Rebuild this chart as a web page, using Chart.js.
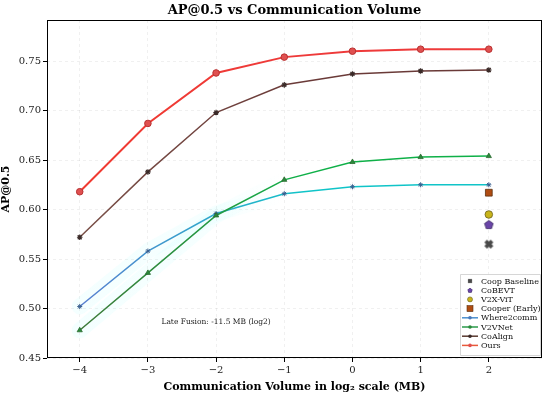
<!DOCTYPE html>
<html>
<head>
<meta charset="utf-8">
<script src="https://cdn.jsdelivr.net/npm/chart.js@4.4.0/dist/chart.umd.min.js"></script>
<style>
html,body{margin:0;padding:0;background:#fff;}
#wrap{width:550px;height:394px;}
</style>
</head>
<body>
<div id="wrap"><canvas id="c" width="550" height="394"></canvas></div>
<script>
// ---- data ----
const xValues = [-4, -3, -2, -1, 0, 1, 2];
const oursAP = [0.618, 0.687, 0.738, 0.754, 0.760, 0.762, 0.762];
const coAlignAP = [0.572, 0.638, 0.698, 0.726, 0.737, 0.740, 0.741];
const v2vnetAP = [0.478, 0.536, 0.594, 0.630, 0.648, 0.653, 0.654];
const where2commAP = [0.502, 0.558, 0.596, 0.616, 0.623, 0.625, 0.625];
const singleX = 2;
const cooperEarlyAP = 0.617;
const v2xVitAP = 0.595;
const coBEVTAP = 0.585;
const coopBaselineAP = 0.565;
const xTicks = [-4, -3, -2, -1, 0, 1, 2];
const xTickLabels = ['\u22124', '\u22123', '\u22122', '\u22121', '0', '1', '2'];
const yTicks = [0.45, 0.50, 0.55, 0.60, 0.65, 0.70, 0.75];
const yTickLabels = ['0.45', '0.50', '0.55', '0.60', '0.65', '0.70', '0.75'];
const lateFusionNote = 'Late Fusion: -11.5 MB (log2)';
const lateFusionPos = {x: -2, y: 0.486};

const SERIF = "'DejaVu Serif', 'Liberation Serif', serif";

function pts(ys) { return xValues.map((x, i) => ({x: x, y: ys[i]})); }

function makeCanvas(size, draw) {
  const c = document.createElement('canvas');
  c.width = size; c.height = size;
  draw(c.getContext('2d'), size);
  return c;
}
function pentagon(r, fill, stroke) {
  return makeCanvas(2 * r + 2, (g, s) => {
    const cx = s / 2, cy = s / 2 + 0.5;
    g.beginPath();
    for (let i = 0; i < 5; i++) {
      const a = -Math.PI / 2 + i * 2 * Math.PI / 5;
      const px = cx + r * Math.cos(a), py = cy + r * Math.sin(a);
      i ? g.lineTo(px, py) : g.moveTo(px, py);
    }
    g.closePath(); g.fillStyle = fill; g.fill();
    g.strokeStyle = stroke; g.lineWidth = 0.8; g.stroke();
  });
}
function filledX(r, fill) {
  return makeCanvas(2 * r + 2, (g, s) => {
    const c = s / 2, w = r * 0.42;
    g.fillStyle = fill;
    g.translate(c, c);
    g.rotate(Math.PI / 4);
    g.fillRect(-r, -w, 2 * r, 2 * w);
    g.fillRect(-w, -r, 2 * w, 2 * r);
  });
}

const pentImg = pentagon(4.5, '#6a45a8', '#3a2a60');
const xImg = filledX(4.5, '#4a4a4a');

function gradientColor(c0, c1) {
  return function (ctx) {
    const ch = ctx.chart;
    if (!ch.chartArea || !ch.scales.x) return c0;
    const x0 = ch.scales.x.getPixelForValue(xValues[0]);
    const x1 = ch.scales.x.getPixelForValue(xValues[xValues.length - 1]);
    const g = ch.ctx.createLinearGradient(x0, 0, x1, 0);
    g.addColorStop(0, c0);
    g.addColorStop(0.55, c1);
    g.addColorStop(1, c1);
    return g;
  };
}

const datasets = [
  {label: 'Coop Baseline', type: 'scatter', data: [{x: singleX, y: coopBaselineAP}],
   pointStyle: xImg, pointRadius: 4.5, backgroundColor: '#4a4a4a', borderColor: '#4a4a4a', order: 1},
  {label: 'CoBEVT', type: 'scatter', data: [{x: singleX, y: coBEVTAP}],
   pointStyle: pentImg, pointRadius: 4.5, backgroundColor: '#6a45a8', borderColor: '#3a2a60', order: 1},
  {label: 'V2X-ViT', type: 'scatter', data: [{x: singleX, y: v2xVitAP}],
   pointStyle: 'circle', pointRadius: 3.8, backgroundColor: '#c8b41a', borderColor: '#6a6020', pointBorderWidth: 0.8, order: 1},
  {label: 'Cooper (Early)', type: 'scatter', data: [{x: singleX, y: cooperEarlyAP}],
   pointStyle: 'rect', pointRadius: 4.8, backgroundColor: '#b04c12', borderColor: '#5a3010', pointBorderWidth: 0.8, order: 1},
  {label: 'Where2comm', data: pts(where2commAP), borderColor: gradientColor('#5a7fd0', '#10c4c8'),
   legendColor: '#4a90d0', borderWidth: 1.5, pointStyle: 'star', pointRadius: 2.5,
   pointBackgroundColor: '#4a78b8', pointBorderColor: '#3a6090', pointBorderWidth: 1, order: 4},
  {label: 'V2VNet', data: pts(v2vnetAP), borderColor: gradientColor('#3f7a3a', '#0fb048'),
   legendColor: '#2a9a4a', borderWidth: 1.5, pointStyle: 'triangle', pointRadius: 3,
   pointBackgroundColor: '#2a8a3a', pointBorderColor: '#2a6a30', pointBorderWidth: 0.8, order: 3},
  {label: 'CoAlign', data: pts(coAlignAP), borderColor: gradientColor('#7a5048', '#6a3a38'),
   legendColor: '#5a3a30', borderWidth: 1.5, pointStyle: 'star', pointRadius: 2.8,
   pointBackgroundColor: '#3a2a28', pointBorderColor: '#3a2a28', pointBorderWidth: 1.2, order: 2},
  {label: 'Ours', data: pts(oursAP), borderColor: gradientColor('#f03a30', '#ee3a3a'),
   legendColor: '#e85a3a', borderWidth: 2, pointStyle: 'circle', pointRadius: 3.3,
   pointBackgroundColor: '#e05050', pointBorderColor: '#b83030', pointBorderWidth: 1, order: 0}
];

const glowPlugin = {
  id: 'glow',
  beforeDatasetsDraw(chart) {
    const ctx = chart.ctx, xs = chart.scales.x;
    const idx = [4, 5];
    ctx.save();
    ctx.beginPath();
    ctx.rect(chart.chartArea.left, chart.chartArea.top, chart.chartArea.width, chart.chartArea.height);
    ctx.clip();
    idx.forEach(di => {
      const meta = chart.getDatasetMeta(di);
      const g = ctx.createLinearGradient(xs.getPixelForValue(-4), 0, xs.getPixelForValue(-1), 0);
      g.addColorStop(0, 'rgba(150,255,255,0.10)');
      g.addColorStop(0.6, 'rgba(150,255,255,0.09)');
      g.addColorStop(1, 'rgba(150,255,255,0)');
      ctx.strokeStyle = g;
      ctx.lineWidth = 16;
      ctx.lineJoin = 'round';
      ctx.lineCap = 'round';
      ctx.beginPath();
      meta.data.slice(0, 4).forEach((p, i) => { i ? ctx.lineTo(p.x, p.y) : ctx.moveTo(p.x, p.y); });
      ctx.stroke();
    });
    ctx.restore();
  }
};

const decorPlugin = {
  id: 'decor',
  afterDraw(chart) {
    const ctx = chart.ctx, a = chart.chartArea, xs = chart.scales.x, ys = chart.scales.y;
    ctx.save();
    // frame
    ctx.strokeStyle = '#000';
    ctx.lineWidth = 1;
    ctx.strokeRect(Math.round(a.left) + 0.5, Math.round(a.top) + 0.5, Math.round(a.width) - 1, Math.round(a.height) - 1);
    // title
    ctx.fillStyle = '#000';
    ctx.font = "bold 13px " + SERIF;
    ctx.textAlign = 'center';
    ctx.textBaseline = 'middle';
    ctx.fillText('AP@0.5 vs Communication Volume', (a.left + a.right) / 2, 11);
    // annotation
    ctx.font = "7.5px " + SERIF;
    ctx.fillStyle = '#222';
    ctx.fillText(lateFusionNote, xs.getPixelForValue(lateFusionPos.x), ys.getPixelForValue(lateFusionPos.y));
    // legend
    const lx = 460, ly = 274, lw = 80, lh = 81;
    ctx.fillStyle = 'rgba(255,255,255,0.85)';
    ctx.strokeStyle = '#cccccc';
    ctx.lineWidth = 0.8;
    ctx.beginPath();
    ctx.rect(lx + 0.5, ly + 0.5, lw, lh);
    ctx.fill(); ctx.stroke();
    ctx.font = "8px " + SERIF;
    ctx.textAlign = 'left';
    ctx.textBaseline = 'middle';
    chart.data.datasets.forEach((ds, i) => {
      const y = ly + 7 + i * 9.2;
      const mx = lx + 10;
      if (ds.type === 'scatter') {
        const st = ds.pointStyle;
        if (typeof st !== 'string') {
          ctx.drawImage(st, mx - 3, y - 3, 6, 6);
        } else if (st === 'circle') {
          ctx.beginPath(); ctx.arc(mx, y, 2.5, 0, Math.PI * 2);
          ctx.fillStyle = ds.backgroundColor; ctx.fill();
          ctx.strokeStyle = ds.borderColor; ctx.lineWidth = 0.6; ctx.stroke();
        } else {
          ctx.fillStyle = ds.backgroundColor; ctx.fillRect(mx - 3, y - 3, 6, 6);
          ctx.strokeStyle = ds.borderColor; ctx.lineWidth = 0.6; ctx.strokeRect(mx - 3, y - 3, 6, 6);
        }
      } else {
        ctx.strokeStyle = ds.legendColor; ctx.lineWidth = 1.5;
        ctx.beginPath(); ctx.moveTo(lx + 2, y); ctx.lineTo(lx + 18, y); ctx.stroke();
        ctx.beginPath(); ctx.arc(lx + 10, y, 1.8, 0, Math.PI * 2);
        ctx.fillStyle = ds.pointBackgroundColor; ctx.fill();
      }
      ctx.fillStyle = '#111';
      ctx.fillText(ds.label, lx + 21, y + 0.5);
    });
    ctx.restore();
  }
};

new Chart(document.getElementById('c'), {
  type: 'line',
  data: {datasets: datasets},
  plugins: [glowPlugin, decorPlugin],
  options: {
    responsive: false,
    animation: false,
    layout: {padding: {top: 20, right: 8, left: 0, bottom: 0}},
    plugins: {legend: {display: false}, title: {display: false}, tooltip: {enabled: false}},
    elements: {line: {tension: 0}},
    scales: {
      x: {
        type: 'linear', min: -4.48, max: 2.78,
        afterBuildTicks(s) { s.ticks = xTicks.map(v => ({value: v})); },
        afterFit(s) { s.height = 36; },
        ticks: {
          callback: (v) => { const i = xTicks.indexOf(v); return i >= 0 ? xTickLabels[i] : ''; },
          font: {family: SERIF, size: 10}, color: '#222', padding: 2, maxRotation: 0, autoSkip: false
        },
        grid: {color: 'rgba(0,0,0,0.08)', tickColor: '#000', tickLength: 4, lineWidth: 0.8, tickWidth: 1},
        border: {display: false, dash: [3, 3]},
        title: {display: true, text: 'Communication Volume in log\u2082 scale (MB)',
                font: {family: SERIF, size: 11, weight: 'bold'}, color: '#000', padding: {top: 1, bottom: 0}}
      },
      y: {
        type: 'linear', min: 0.45, max: 0.7915,
        afterBuildTicks(s) { s.ticks = yTicks.map(v => ({value: v})); },
        afterFit(s) { s.width = 47; },
        ticks: {
          callback: (v) => { const i = yTicks.findIndex(t => Math.abs(t - v) < 1e-9); return i >= 0 ? yTickLabels[i] : ''; },
          font: {family: SERIF, size: 10}, color: '#222', padding: 2
        },
        grid: {color: 'rgba(0,0,0,0.08)', tickColor: '#000', tickLength: 4, lineWidth: 0.8, tickWidth: 1},
        border: {display: false, dash: [3, 3]},
        title: {display: true, text: 'AP@0.5',
                font: {family: SERIF, size: 11, weight: 'bold'}, color: '#000', padding: {top: 0, bottom: 2}}
      }
    }
  }
});
</script>
</body>
</html>
